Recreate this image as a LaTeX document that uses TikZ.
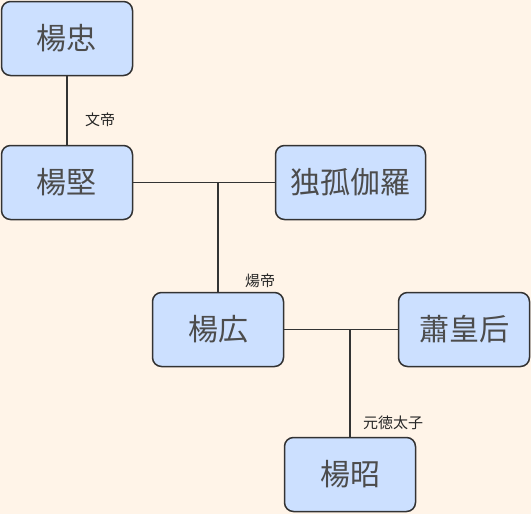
\documentclass[tikz,border=0pt]{standalone}
\usepackage{fontspec}
\newfontfamily\cjk{Noto Sans CJK JP}
\definecolor{bgcol}{HTML}{FFF4E8}
\definecolor{boxcol}{HTML}{CCE0FF}
\definecolor{edgecol}{HTML}{333333}
\begin{document}
\begin{tikzpicture}[x=1pt,y=-1pt,
 person/.style={draw=edgecol,line width=1.5pt,fill=boxcol,rounded corners=9pt,
                minimum width=131pt,minimum height=74pt,inner sep=0pt,
                font=\cjk\fontsize{30}{32}\selectfont,text=black!70},
 wide/.style={minimum width=150pt},
 link/.style={draw=edgecol,line width=1.5pt},
 lbl/.style={anchor=west,inner sep=0pt,font=\cjk\fontsize{15}{17}\selectfont,text=black!85}]
 \fill[bgcol] (0,0) rectangle (531,514);
 \useasboundingbox (0,0) rectangle (531,514);
 \node[person] (zhong) at (67,38.5) {楊忠};
 \node[person] (jian) at (67,182.5) {楊堅};
 \node[person,wide] (dugu) at (350.5,182.5) {独孤伽羅};
 \node[person] (guang) at (218,329.5) {楊広};
 \node[person] (xiao) at (464,329.5) {蕭皇后};
 \node[person] (zhao) at (350,474.5) {楊昭};
 \coordinate (m1) at (218,182.5);
 \coordinate (m2) at (350,329.5);
 \foreach \a/\b in {zhong/jian,jian/dugu,m1/guang,guang/xiao,m2/zhao}
  \draw[link] (\a) -- (\b);
 \node[lbl] (wendi) at (85,120) {文帝};
 \node[lbl] (yangdi) at (245,281) {煬帝};
 \node[lbl] (yuande) at (363,423) {元徳太子};
\end{tikzpicture}
\end{document}
